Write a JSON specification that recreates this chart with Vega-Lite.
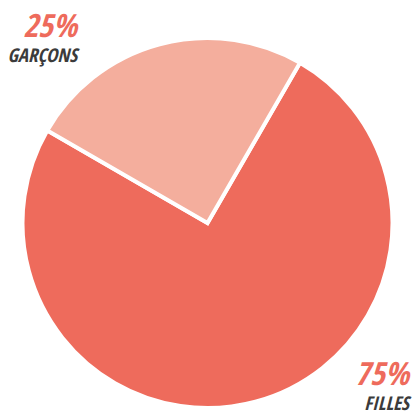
{
  "$schema": "https://vega.github.io/schema/vega-lite/v6.json",
  "width": 415,
  "height": 378,
  "autosize": "none",
  "padding": {"top": 34, "left": 0, "right": 0, "bottom": 0},
  "background": "white",
  "view": {"stroke": null},
  "data": {
    "values": [
      {"genre": "Filles", "label": "FILLES", "value": 75, "pct": "75%"},
      {"genre": "Garçons", "label": "GARÇONS", "value": 25, "pct": "25%"}
    ]
  },
  "layer": [
    {
      "mark": {"type": "arc", "outerRadius": 185, "stroke": "white", "strokeWidth": 4},
      "encoding": {
        "theta": {"field": "value", "type": "quantitative", "stack": true, "scale": {"range": [0.5236, 6.8068]}},
        "color": {"field": "genre", "type": "nominal", "scale": {"domain": ["Filles", "Garçons"], "range": ["#EE6B5C", "#F4AE9D"]}, "legend": null},
        "order": {"field": "value", "sort": "descending"}
      }
    },
    {
      "mark": {"type": "text", "align": "right", "baseline": "alphabetic", "dy": -12.5, "font": "Open Sans Condensed, sans-serif", "fontSize": 32, "fontWeight": "bold", "fontStyle": "italic", "color": "#EE6B5C"},
      "encoding": {
        "theta": {"field": "value", "type": "quantitative", "stack": true, "scale": {"range": [-0.2304, 6.477]}},
        "radius": {"field": "value", "type": "quantitative", "scale": {"zero": false, "domain": [25, 75], "range": [217, 266.6]}},
        "text": {"field": "pct"},
        "order": {"field": "value", "sort": "descending"}
      }
    },
    {
      "mark": {"type": "text", "align": "right", "baseline": "alphabetic", "dy": 12.5, "font": "Open Sans Condensed, sans-serif", "fontSize": 19, "fontWeight": "bold", "fontStyle": "italic", "color": "#3b3b3b"},
      "encoding": {
        "theta": {"field": "value", "type": "quantitative", "stack": true, "scale": {"range": [-0.2304, 6.477]}},
        "radius": {"field": "value", "type": "quantitative", "scale": {"zero": false, "domain": [25, 75], "range": [217, 266.6]}},
        "text": {"field": "label"},
        "order": {"field": "value", "sort": "descending"}
      }
    }
  ],
  "resolve": {"scale": {"theta": "independent", "radius": "independent"}}
}
